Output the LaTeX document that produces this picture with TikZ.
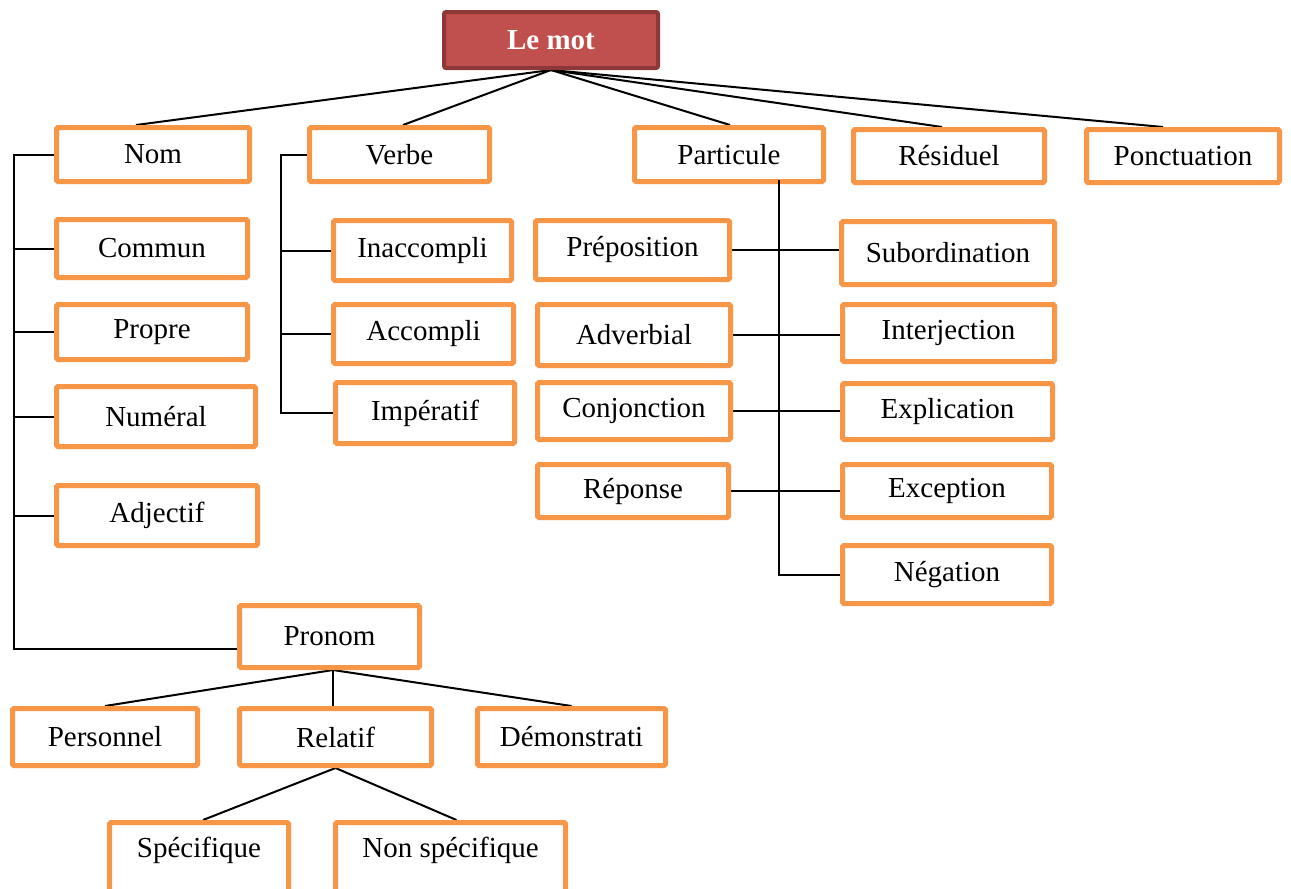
\documentclass[tikz,border=0pt]{standalone}
\usepackage{fontspec}
\setmainfont{Liberation Serif}
\usetikzlibrary{backgrounds,calc}
\definecolor{boxorange}{HTML}{F79646}
\definecolor{rootfill}{HTML}{C0504D}
\definecolor{rootedge}{HTML}{8C3836}
\begin{document}
\begin{tikzpicture}[x=1pt,y=-1pt,
  box/.style={draw=boxorange, line width=5pt, fill=white, rounded corners=1.5pt,
    inner sep=0pt, font=\fontsize{29}{32}\selectfont},
  rootbox/.style={draw=rootedge, line width=4pt, fill=rootfill, rounded corners=2pt,
    inner sep=0pt, text=white, font=\fontsize{29}{32}\selectfont\bfseries},
  link/.style={line width=2pt, draw=black}]
\useasboundingbox (0,0) rectangle (1291,889);
\clip (0,0) rectangle (1291,889);

% root
\node[rootbox, minimum width=214pt, minimum height=56pt] (lemot) at (551,40) {Le mot};

% first level
\node[box, minimum width=193pt, minimum height=54pt] (nom)       at (153,154.5)  {Nom};
\node[box, minimum width=180pt, minimum height=54pt] (verbe)     at (399.5,154.5){Verbe};
\node[box, minimum width=189pt, minimum height=54pt] (particule) at (729,154.5)  {Particule};
\node[box, minimum width=191pt, minimum height=53pt] (residuel)  at (949,156)    {Résiduel};
\node[box, minimum width=193pt, minimum height=53pt] (ponct)     at (1183,156)   {Ponctuation};

% noun branch
\node[box, minimum width=191pt, minimum height=58pt] (commun)   at (152,248.5) {Commun};
\node[box, minimum width=191pt, minimum height=55pt] (propre)   at (152,332)   {Propre};
\node[box, minimum width=199pt, minimum height=60pt] (numeral)  at (156,416.5) {Numéral};
\node[box, minimum width=201pt, minimum height=60pt] (adjectif) at (157,515.5) {Adjectif};
\node[box, minimum width=180pt, minimum height=62pt] (pronom)   at (329.5,636.5) {Pronom};

% pronoun branch
\node[box, minimum width=185pt, minimum height=57pt] (personnel) at (105,737)   {Personnel};
\node[box, minimum width=192pt, minimum height=57pt] (relatif)   at (335.5,737) {Relatif};
\node[box, minimum width=188pt, minimum height=57pt] (demonstr)  at (571.5,737) {Démonstrati};
\node[box, minimum width=179pt, minimum height=75pt, text depth=26pt] (specifique) at (199,860)   {Spécifique};
\node[box, minimum width=230pt, minimum height=75pt, text depth=26pt] (nonspec)    at (450.5,860) {Non spécifique};

% verb branch
\node[box, minimum width=178pt, minimum height=60pt] (inaccompli) at (422.5,250.5) {Inaccompli};
\node[box, minimum width=180pt, minimum height=59pt] (accompli)   at (423.5,334)   {Accompli};
\node[box, minimum width=179pt, minimum height=61pt] (imperatif)  at (425,413)     {Impératif};

% particle branch
\node[box, minimum width=194pt, minimum height=59pt] (preposition) at (632.5,250) {Préposition};
\node[box, minimum width=193pt, minimum height=61pt] (adverbial)   at (634,335)   {Adverbial};
\node[box, minimum width=193pt, minimum height=57pt] (conjonction) at (634,411)   {Conjonction};
\node[box, minimum width=191pt, minimum height=53pt] (reponse)     at (633,491)   {Réponse};
\node[box, minimum width=213pt, minimum height=63pt] (subordination) at (948,253)   {Subordination};
\node[box, minimum width=212pt, minimum height=57pt] (interjection)  at (948.5,333) {Interjection};
\node[box, minimum width=210pt, minimum height=56pt] (explication)   at (947.5,411.5) {Explication};
\node[box, minimum width=209pt, minimum height=53pt] (exception)     at (947,491)   {Exception};
\node[box, minimum width=209pt, minimum height=58pt] (negation)      at (947,574.5) {Négation};

% trunk positions
\coordinate (ntop) at (14,0);
\coordinate (vtop) at (281,0);
\coordinate (ptop) at (779,180);

\begin{scope}[on background layer]
  % root to first level
  \draw[link] (lemot.south) -- ([xshift=-17pt]nom.north);
  \draw[link] (lemot.south) -- ([xshift=3.5pt]verbe.north);
  \draw[link] (lemot.south) -- ([xshift=1pt]particule.north);
  \draw[link] (lemot.south) -- ([xshift=-7pt]residuel.north);
  \draw[link] (lemot.south) -- ([xshift=-20pt]ponct.north);

  % noun trunk
  \draw[link] (nom.west) -- (nom.west -| ntop) |- ([yshift=-12pt]pronom.west);
  \foreach \n in {commun,propre,numeral,adjectif}
    \draw[link] (\n.west) -- (\n.west -| ntop);

  % verb trunk
  \draw[link] (verbe.west) -- (verbe.west -| vtop) |- (imperatif.west);
  \foreach \n in {inaccompli,accompli}
    \draw[link] (\n.west) -- (\n.west -| vtop);

  % particle rows
  \draw[link] (preposition.east) -- (preposition.east -| subordination.west);
  \draw[link] (adverbial.east)   -- (adverbial.east -| interjection.west);
  \draw[link] (conjonction.east) -- (conjonction.east -| explication.west);
  \draw[link] (reponse.east)     -- (reponse.east -| exception.west);

  % pronoun tree
  \coordinate (pa) at ([xshift=3.5pt]pronom.south);
  \draw[link] (pa) -- (personnel.north);
  \draw[link] (pa) -- (pa |- relatif.north);
  \draw[link] (pa) -- (demonstr.north);
  \draw[link] (relatif.south) -- ([xshift=4pt]specifique.north);
  \draw[link] (relatif.south) -- ([xshift=6pt]nonspec.north);
\end{scope}

% particle trunk, drawn over the box edge
\draw[link] (ptop) |- (negation.west);
\end{tikzpicture}
\end{document}
